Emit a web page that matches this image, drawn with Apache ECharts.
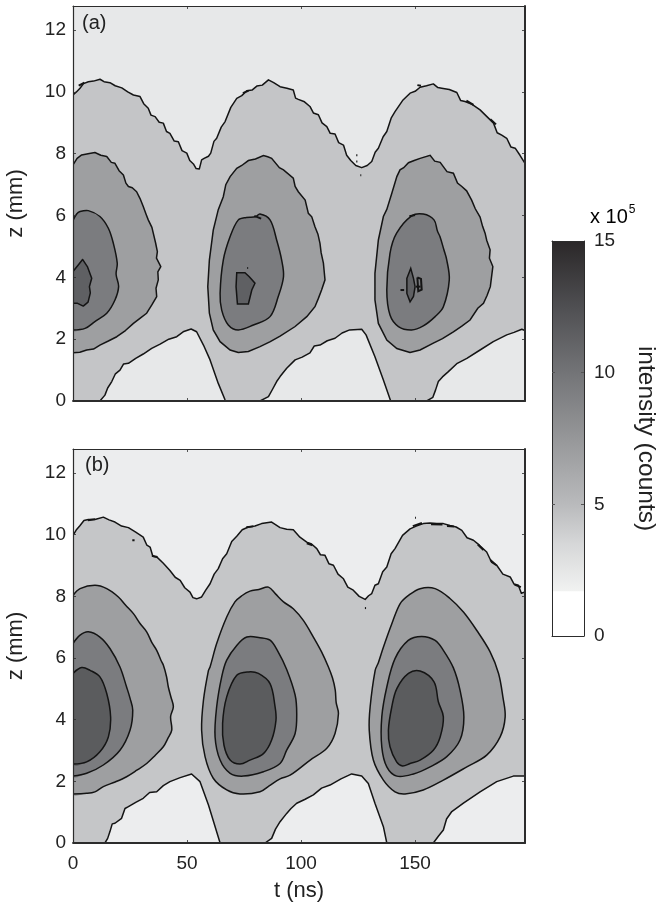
<!DOCTYPE html>
<html><head><meta charset="utf-8">
<style>html,body{margin:0;padding:0;background:#fff}#c{width:657px;height:907px}</style>
<script src="https://cdn.jsdelivr.net/npm/echarts@6/dist/echarts.min.js"></script>
</head><body><div id="c"></div>
<script>
const tTicks=[0,50,100,150];
const zTicks=[0,2,4,6,8,10,12];
const cbTicks=[0,5,10,15];
const tMax=198.2, zMax=12.78;

// Panel (a): contours as [t (ns), z (mm)]
const aTop=[[0,9.9],[1.5,10],[3.07,10.12],[4.6,10.27],[6.73,10.33],[9,10.35],[11.84,10.41],[13.6,10.33],[16.2,10.3],[18.5,10.2],[21.4,10.13],[24,10],[26.5,9.9],[29.4,9.85],[31,9.62],[33,9.47],[34.2,9.25],[36,9.2],[37.8,9.02],[39.6,8.99],[41,8.72],[42.5,8.66],[44.4,8.41],[46.2,8.39],[47.8,8.1],[49.9,8.02],[51.2,7.78],[52.8,7.67],[54,7.52],[55.4,7.51],[56.4,7.8],[57.5,7.85],[59.4,7.92],[60.4,8.02],[61.8,8.4],[63,8.5],[65,8.86],[66.7,9.04],[69.2,9.5],[71.8,9.79],[74,9.88],[76.2,10.04],[78.5,10.06],[80.6,10.19],[83,10.22],[85.7,10.39],[88,10.3],[90.8,10.17],[93.8,10.12],[96.6,10.06],[97.6,9.8],[98.8,9.76],[101.5,9.68],[103.9,9.53],[105.4,9.32],[107.6,9.26],[109.2,9],[111.3,8.88],[112.8,8.66],[114.9,8.64],[116.5,8.36],[118.6,8.28],[120,7.95],[121.8,7.78],[124,7.62],[126.6,7.55],[129,7.62],[131,7.75],[132.5,8.05],[133.9,8.18],[136,8.55],[137.6,8.72],[139.5,9.15],[141.2,9.36],[144.5,9.72],[147.8,9.96],[150,10.02],[152.2,10.15],[155,10.2],[158,10.26],[160,10.14],[161.7,10.12],[165,10.08],[168.3,9.98],[170,9.72],[171.9,9.69],[175,9.6],[178.5,9.42],[181.5,9.2],[184.4,8.99],[186,8.68],[188,8.6],[190.2,8.5],[192,8.22],[193.9,8.18],[196,7.95],[198.2,7.69]];
const aLow1=[[11.8,0],[14,0.19],[15.2,0.42],[17,0.63],[18.6,0.88],[20.6,1],[22.2,1.2],[24.3,1.22],[27.5,1.38],[30.8,1.52],[34.5,1.7],[38.2,1.84],[42,2],[45.5,2.08],[48.6,2.25],[51.8,2.33],[54.2,2.24],[57.2,1.81],[60.1,1.33],[63.7,0.57],[66.7,0.03]];
const aLow2=[[82,0],[85.7,0.14],[87.5,0.38],[89.3,0.63],[90.8,0.79],[93.7,1.06],[97.4,1.33],[100.5,1.42],[103.9,1.56],[105.8,1.78],[108.3,1.81],[111.5,1.95],[114.9,2.03],[118,2.2],[121.3,2.3],[126.6,2.32],[128.5,2.14],[132.4,1.43],[136.1,0.68],[139.3,0]];
const aLow3=[[155.1,0],[157.8,0.12],[159,0.36],[160.2,0.63],[162,0.78],[164.6,0.95],[168.5,1.22],[172.7,1.38],[178.5,1.65],[184.3,1.92],[190.2,2.14],[193.4,2.22],[196.8,2.32],[198.2,2.28]];
const aL2a=[[0,7.64],[1.8,7.85],[3.8,7.96],[6.6,8],[9.6,8.04],[12.2,7.95],[14.8,7.91],[16.8,7.72],[18.4,7.69],[20.2,7.45],[22.1,7.31],[23.2,7.05],[24.3,6.94],[26,6.9],[27.9,6.77],[29.4,6.55],[30.8,6.29],[32,6.05],[33,5.86],[34.6,5.62],[35.2,5.43],[36.2,5.12],[37,4.83],[36.6,4.62],[38.5,4.35],[37.2,4.18],[37.4,3.92],[36.4,3.65],[36.7,3.38],[34.5,3.1],[32.3,2.84],[29.5,2.68],[26.5,2.51],[23,2.28],[19.2,2.08],[15.5,1.94],[11.8,1.81],[9,1.68],[6,1.65],[3,1.58],[0,1.56]];
const aL2b=[[72.5,1.57],[68.9,1.65],[64.5,1.92],[61.5,2.3],[59.8,2.84],[59.1,3.7],[59.8,4.56],[61.5,5.53],[63.7,6.19],[65.9,6.61],[67,7],[68.9,7.26],[71.8,7.53],[74,7.62],[76.9,7.78],[80,7.83],[83.5,7.94],[85.4,7.9],[87.1,7.85],[90.5,7.55],[92.3,7.48],[96.6,7.21],[97.4,6.94],[98.8,6.77],[101.8,6.5],[103.2,6.07],[104.7,5.96],[106.1,5.64],[107.4,5.4],[108.3,5.1],[108.8,4.8],[109.8,4.46],[110.5,3.92],[109,3.59],[107.6,3.32],[106.1,3.05],[102.5,2.73],[97.4,2.41],[90.8,2.1],[86.5,1.92],[82,1.76],[76.9,1.6]];
const aL2c=[[147.8,1.57],[142,1.7],[137.6,1.97],[133.9,2.51],[132.4,3.27],[132.4,4.13],[133.9,5.21],[136.1,5.97],[137.6,6.2],[139.8,6.72],[142,7.26],[143.4,7.48],[145,7.55],[147.1,7.71],[149.6,7.78],[152.2,7.85],[156.6,7.95],[158.6,7.76],[161,7.72],[164,7.42],[166.8,7.37],[168.6,7.05],[170.5,6.94],[172.6,6.8],[174.8,6.5],[176.4,6.22],[178.5,5.95],[179.6,5.65],[180.7,5.43],[181.4,5.2],[182.9,4.89],[182.6,4.62],[184.1,4.35],[183,3.7],[181.6,3.42],[180,3.16],[177.5,3],[174.1,2.62],[170.5,2.42],[166.8,2.24],[162,2.02],[158,1.87],[152.2,1.65]];
const aL3a=[[0,5.84],[1.6,6.05],[3.1,6.13],[6.7,6.16],[11.8,5.97],[15.5,5.59],[17.7,5.1],[19.4,4.46],[18.9,4.1],[20,3.7],[18.4,3.27],[14.8,2.84],[9.6,2.57],[5.3,2.35],[0,2.3]];
const aL3b=[[72.5,2.3],[68.1,2.46],[65.2,2.94],[64.5,3.48],[65.9,4.56],[68.9,5.32],[72.5,5.86],[76,5.94],[80,5.96],[82,6.05],[86.4,5.86],[89.3,5.21],[91.5,4.56],[92.3,4.02],[90,3.38],[86.4,2.73],[79.1,2.46]];
const aL3c=[[148.5,2.3],[142.7,2.41],[139,2.78],[137.6,3.59],[139,4.78],[141.9,5.43],[148.5,5.99],[153.6,6.05],[158.3,5.86],[159.8,5.5],[160.9,5.32],[162.6,4.9],[163.9,4.56],[165,3.92],[162.4,3.05],[158.8,2.73],[153.6,2.43]];
const aL4a=[[0,4.19],[2.3,4.4],[4.2,4.58],[6.3,4.35],[8.2,3.97],[7.2,3.7],[7.6,3.5],[6.6,3.2],[4.5,3.07],[2,3.16],[0,3.16]];
const aL4b=[[71.8,4.15],[75.4,4.15],[77.3,4.02],[79.8,3.81],[78.4,3.59],[76.9,3.14],[72.1,3.14],[71.5,3.7]];
const aL4c=[[148.1,4.29],[149.3,3.97],[150,3.7],[149.3,3.38],[147.8,3.21],[146.4,3.48],[146.4,3.97]];
const aSpecks=[[[143.6,3.59],[145.2,3.59]],[[151,4],[152.6,3.95],[152.9,3.6],[151.4,3.55],[151,4]],[[150.4,3.7],[152.4,3.7]],[[76.4,4.3],[76.8,4.3]],[[124.2,7.95],[124.7,7.95]],[[124.2,7.75],[124.7,7.75]],[[126,7.3],[126.4,7.3]],[[151,10.22],[152.6,10.2]],[[172.5,9.72],[175.6,9.58]],[[183,9.12],[185.5,8.95]],[[74.5,9.96],[77,10.04]],[[2.5,10.2],[5,10.3]],[[79.5,5.99],[82.5,5.9]],[[147.5,5.98],[150,6.02]]];

// Panel (b)
const bTop=[[0,9.98],[1.4,10.15],[3.1,10.3],[4.8,10.46],[6.7,10.49],[10,10.5],[13.3,10.57],[15.8,10.48],[18.4,10.41],[21.3,10.28],[24.3,10.23],[27.5,10.08],[30.8,9.92],[32.4,9.66],[33.8,9.6],[35,9.3],[36.7,9.28],[39.5,9.08],[42.5,8.84],[44.8,8.62],[47,8.52],[49,8.28],[51.3,8.14],[52.6,7.96],[54.2,7.92],[56.4,7.98],[58.2,8.2],[60.1,8.41],[61.9,8.72],[63.7,8.9],[65.6,9.22],[67.4,9.38],[69.6,9.78],[71.8,9.95],[74.2,10.16],[76.9,10.25],[79.8,10.28],[82.7,10.36],[87.1,10.41],[90.8,10.23],[93.7,10.18],[96.6,10.16],[99.5,9.92],[102.5,9.76],[104.6,9.7],[106.9,9.55],[108.5,9.35],[110.5,9.33],[112.2,9.06],[114.2,9.01],[116.2,8.72],[118.6,8.57],[120.5,8.3],[122.9,8.2],[125.5,8],[128.1,7.9],[129.6,8.02],[131,8.09],[132.4,8.36],[133.9,8.41],[135.8,8.8],[137.6,8.95],[139.5,9.38],[141.2,9.55],[144.5,9.98],[147.8,10.19],[150.5,10.28],[153.6,10.36],[156.5,10.38],[159.5,10.36],[162.4,10.36],[165.3,10.3],[168,10.25],[170.5,10.14],[172.8,9.9],[175.6,9.82],[178.2,9.66],[181.4,9.44],[183.6,9.1],[185.8,9.01],[188.5,8.72],[191.7,8.63],[193.4,8.4],[195.3,8.36],[196.6,8.1],[198.2,8.14]];
const bLow1=[[14,0],[15.2,0.15],[16.2,0.37],[17.2,0.62],[18.4,0.64],[21.3,0.8],[22.8,1.12],[24.3,1.18],[27.5,1.32],[30.8,1.45],[33.6,1.64],[36.7,1.66],[39.6,1.86],[42.5,1.99],[47,2.12],[52,2.24],[55.7,1.99],[59.4,1.23],[64.5,0]];
const bLow2=[[84.2,0],[87.1,0.15],[88.8,0.45],[90.8,0.69],[93.7,0.96],[95.6,1.12],[98.1,1.29],[101.8,1.42],[105.4,1.56],[109,1.78],[112.7,1.88],[117.5,2.08],[122.2,2.24],[126.6,2.17],[129.5,1.93],[132.4,1.29],[136.1,0.53],[137.6,0]];
const bLow3=[[158,0],[160.2,0.22],[162.4,0.42],[163.8,0.78],[166.1,1.02],[171.2,1.29],[178.5,1.66],[185.8,1.99],[193.1,2.17],[198.2,2.17]];
const bL2a=[[0,8.03],[3.1,8.25],[9.6,8.36],[14.8,8.25],[19.9,7.98],[23,7.72],[26.5,7.44],[29.4,7.12],[32.3,6.85],[34.6,6.5],[36.7,6.25],[38.6,5.92],[39.6,5.77],[41,5.4],[41.8,5.06],[43,4.72],[44,4.42],[42.8,4.1],[43.3,3.66],[41.5,3.38],[39.6,3.12],[36,2.84],[32.3,2.58],[28,2.36],[23.5,2.15],[18.5,1.98],[13.3,1.83],[9.6,1.66],[6,1.61],[0,1.59]];
const bL2b=[[73.2,1.59],[67.4,1.72],[61.5,2.1],[57.9,2.8],[56.4,3.66],[57.2,4.63],[59.4,5.6],[60.1,5.71],[63,6.47],[67.4,7.33],[71,7.82],[74,8.02],[77.6,8.17],[81.5,8.22],[85.7,8.3],[88.8,8.08],[92.3,7.82],[96.6,7.6],[101,7.22],[105.4,6.68],[109,6.2],[112,5.71],[113.8,5.35],[115,4.96],[115.4,4.55],[116.4,4.2],[114.9,3.55],[111.3,3.07],[104,2.69],[95.2,2.2],[90.8,2.08],[86,1.85],[82,1.66]];
const bL2c=[[145.6,1.59],[141.2,1.66],[136.1,2.04],[131.7,2.69],[129.9,3.66],[130.3,4.42],[132.5,5.6],[133.9,5.85],[136.1,6.35],[139.8,7.11],[143.4,7.76],[147.1,8.03],[152.2,8.25],[158.8,8.25],[165.3,7.93],[171.2,7.49],[177,6.9],[182.9,6.2],[186.6,5.5],[188.5,4.74],[189.5,4.09],[187.3,3.44],[181.4,2.85],[172.7,2.47],[162.4,2.04],[153.6,1.72]];
const bL3a=[[0,6.47],[3.1,6.74],[6.7,6.85],[11.8,6.68],[16.2,6.31],[20.6,5.71],[23.5,5.06],[25,4.7],[26.2,4.31],[25,3.66],[20.6,3.01],[13.3,2.53],[6,2.26],[0,2.17]];
const bL3b=[[74.7,2.17],[68.9,2.26],[64.5,2.69],[62.3,3.44],[63,4.42],[65.2,5.39],[67.4,5.93],[71.8,6.41],[76.2,6.68],[82,6.66],[86.4,6.58],[89.6,6.25],[93.7,5.63],[97.4,4.8],[98.1,4.2],[97.4,3.55],[93.7,3.01],[90.8,2.58],[83.5,2.31]];
const bL3c=[[142,2.17],[137.6,2.47],[135.4,3.12],[135.4,4.09],[137.6,5.06],[141.2,5.98],[147,6.57],[152.9,6.7],[158.8,6.57],[162.4,6.25],[166.8,5.68],[169.7,4.96],[171.4,4.09],[169.7,3.34],[163.9,2.8],[156.6,2.47],[149.3,2.24]];
const bL4a=[[0,5.5],[3.8,5.69],[7.5,5.6],[11.8,5.39],[14.8,4.85],[16.5,4.09],[15.5,3.44],[11.8,2.96],[6,2.63],[0,2.56]];
const bL4b=[[73.2,2.56],[68.9,2.69],[66.2,3.17],[65.6,3.88],[67.4,4.74],[71.8,5.44],[76.9,5.55],[81.3,5.5],[86.4,5.17],[88.6,4.42],[89,3.98],[87.1,3.34],[83.5,2.9],[77.6,2.69]];
const bL4c=[[147.8,2.58],[144.5,2.5],[141.9,2.63],[139,3.12],[138.3,3.66],[139.8,4.42],[142,5.01],[147.1,5.5],[152.2,5.58],[158.3,5.23],[160.2,4.58],[162.4,4.09],[161,3.44],[158,3.01],[152.2,2.69]];
const bSpecks=[[[150,10.55],[150.4,10.55]],[[128,7.62],[128.5,7.62]],[[26,9.82],[27,9.82]],[[149,10.28],[153,10.38]],[[157,10.34],[162,10.33]],[[164,10.28],[167,10.27]],[[6.5,10.47],[9.8,10.5]],[[34.6,9.32],[37,9.28]],[[102.5,9.72],[105,9.66]],[[76,10.24],[79,10.27]],[[193.6,8.38],[196.4,8.3]],[[177.5,9.68],[180,9.5]],[[183,9.18],[185.5,9.02]]];

// Colour bar: [lower, upper] intensity (10^5 counts), gradient stops [value, colour]
const cbRamp=[1.7,15];
const cbStops=[[1.7,'#f1f2f1'],[3.5,'#d6d7d8'],[5,'#b9babc'],[7.5,'#969799'],[10,'#737477'],[12.5,'#4f4f52'],[15,'#2a2728']];

const cA=['#e7e8e9','#c4c5c7','#9e9fa1','#7b7c7f','#5f6063'];
const cB=['#ecedee','#c5c6c8','#9e9fa1','#7b7c7f','#5b5c5e'];
const fr='#2c2c2c';
const ink='#141414';

function contour(grid,pts,fill,closed,extra,smooth){
  const sm=smooth?0.35:0;
  return {type:'custom',xAxisIndex:grid*2,yAxisIndex:grid*2,coordinateSystem:'cartesian2d',silent:true,z:3,
    encode:{x:0,y:1},data:pts,clip:true,
    renderItem(p,api){
      if(p.dataIndex!==0) return null;
      const poly=pts.concat(extra||[]).map(q=>api.coord(q));
      const line=pts.map(q=>api.coord(q));
      return {type:'group',children:[
        {type:'polygon',shape:{points:poly,smooth:sm},style:{fill:fill,stroke:closed?ink:null,lineWidth:1.5}},
        ...(closed?[]:[{type:'polyline',shape:{points:line,smooth:sm},style:{fill:null,stroke:ink,lineWidth:1.5,lineJoin:'round'}}])
      ]};
    }};
}
function speck(grid,pts){
  return {type:'custom',xAxisIndex:grid*2,yAxisIndex:grid*2,silent:true,z:4,encode:{x:0,y:1},data:pts,
    renderItem(p,api){
      if(p.dataIndex!==0) return null;
      return {type:'polyline',shape:{points:pts.map(q=>api.coord(q))},style:{fill:null,stroke:ink,lineWidth:2}};
    }};
}
const topEdge=[[tMax,zMax],[0,zMax]];
const series=[
 contour(0,aTop,cA[0],false,topEdge),contour(0,aLow1,cA[0]),contour(0,aLow2,cA[0]),contour(0,aLow3,cA[0],false,[[tMax,0]]),
 contour(0,aL2a,cA[2]),contour(0,aL2b,cA[2],true),contour(0,aL2c,cA[2],true),
 contour(0,aL3a,cA[3],false,null,true),contour(0,aL3b,cA[3],true,null,true),contour(0,aL3c,cA[3],true,null,true),
 contour(0,aL4a,cA[4]),contour(0,aL4b,cA[4],true),contour(0,aL4c,cA[4],true),
 contour(1,bTop,cB[0],false,topEdge),contour(1,bLow1,cB[0]),contour(1,bLow2,cB[0]),contour(1,bLow3,cB[0],false,[[tMax,0]]),
 contour(1,bL2a,cB[2],false,null,true),contour(1,bL2b,cB[2],true,null,true),contour(1,bL2c,cB[2],true,null,true),
 contour(1,bL3a,cB[3],false,null,true),contour(1,bL3b,cB[3],true,null,true),contour(1,bL3c,cB[3],true,null,true),
 contour(1,bL4a,cB[4],false,null,true),contour(1,bL4b,cB[4],true,null,true),contour(1,bL4c,cB[4],true,null,true),
 ...aSpecks.map(s=>speck(0,s)),...bSpecks.map(s=>speck(1,s)),
 {type:'custom',xAxisIndex:4,yAxisIndex:4,silent:true,z:3,encode:{y:1},data:[[0,cbRamp[0]],[1,cbRamp[1]]],
  renderItem(p,api){
   if(p.dataIndex!==0) return null;
   const a=api.coord([0,cbRamp[1]]),b=api.coord([1,cbRamp[0]]);
   const span=cbRamp[1]-cbRamp[0];
   return {type:'rect',shape:{x:a[0],y:a[1],width:b[0]-a[0],height:b[1]-a[1]},style:{fill:new echarts.graphic.LinearGradient(0,1,0,0,cbStops.map(s=>({offset:(s[0]-cbRamp[0])/span,color:s[1]})))}};
  }}
];

const font='"Liberation Sans",Arial,sans-serif';
const tickStyle={length:3,inside:true,lineStyle:{color:fr,width:0.8}};
function xAx(g,show,bottomW){return [
 {gridIndex:g,type:'value',min:0,max:tMax,position:'bottom',z:10,splitLine:{show:false},
  axisLine:{onZero:false,lineStyle:{color:fr,width:bottomW}},
  axisTick:{...tickStyle,customValues:tTicks},
  axisLabel:{show:show,customValues:tTicks,color:'#222',fontFamily:font,fontSize:19,margin:11},
  name:show?'t (ns)':'',nameLocation:'middle',nameGap:37,nameTextStyle:{color:'#222',fontFamily:font,fontSize:22}},
 {gridIndex:g,type:'value',min:0,max:tMax,position:'top',z:10,splitLine:{show:false},
  axisLine:{onZero:false,lineStyle:{color:fr,width:1}},axisTick:{...tickStyle,customValues:tTicks},axisLabel:{show:false}}];}
function yAx(g){return [
 {gridIndex:g,type:'value',min:0,max:zMax,position:'left',z:10,splitLine:{show:false},
  axisLine:{onZero:false,lineStyle:{color:fr,width:1.2}},
  axisTick:{...tickStyle,customValues:zTicks},
  axisLabel:{customValues:zTicks,color:'#222',fontFamily:font,fontSize:19,margin:7},
  name:'z (mm)',nameLocation:'middle',nameGap:46,nameTextStyle:{color:'#222',fontFamily:font,fontSize:22}},
 {gridIndex:g,type:'value',min:0,max:zMax,position:'right',z:10,splitLine:{show:false},
  axisLine:{onZero:false,lineStyle:{color:fr,width:2}},axisTick:{...tickStyle,customValues:zTicks},axisLabel:{show:false}}];}

const option={
 animation:false,backgroundColor:'#fff',
 grid:[
  {left:73,top:6,width:452,height:395,show:true,backgroundColor:cA[1],borderWidth:0,outerBoundsMode:'none'},
  {left:73,top:449,width:452,height:394,show:true,backgroundColor:cB[1],borderWidth:0,outerBoundsMode:'none'},
  {left:552,top:241,width:32,height:395,show:true,backgroundColor:'#fff',borderWidth:0,outerBoundsMode:'none'}
 ],
 xAxis:[...xAx(0,false,1.8),...xAx(1,true,1.8),
  {gridIndex:2,type:'value',min:0,max:1,position:'bottom',z:10,axisLine:{onZero:false,lineStyle:{color:fr,width:1}},axisTick:{show:false},axisLabel:{show:false},splitLine:{show:false}},
  {gridIndex:2,type:'value',min:0,max:1,position:'top',z:10,axisLine:{onZero:false,lineStyle:{color:fr,width:1}},axisTick:{show:false},axisLabel:{show:false},splitLine:{show:false}}],
 yAxis:[...yAx(0),...yAx(1),
  {gridIndex:2,type:'value',min:0,max:15,position:'left',z:10,axisLine:{onZero:false,lineStyle:{color:fr,width:1}},axisTick:{...tickStyle,customValues:[5,10],lineStyle:{color:'#555',width:1}},axisLabel:{show:false},splitLine:{show:false}},
  {gridIndex:2,type:'value',min:0,max:15,position:'right',z:10,axisLine:{onZero:false,lineStyle:{color:fr,width:1}},axisTick:{...tickStyle,customValues:[5,10],lineStyle:{color:'#555',width:1}},
   axisLabel:{customValues:cbTicks,color:'#222',fontFamily:font,fontSize:19,margin:10},splitLine:{show:false},
   name:'intensity (counts)',nameLocation:'middle',nameRotate:-90,nameGap:49,nameTextStyle:{color:'#222',fontFamily:font,fontSize:24.5}}],
 graphic:[
  {type:'text',left:82,top:13,z:20,style:{text:'(a)',font:'20px '+font,fill:'#222'}},
  {type:'text',left:85,top:455,z:20,style:{text:'(b)',font:'20px '+font,fill:'#222'}},
  {type:'text',left:590,top:204,z:20,style:{rich:{n:{fontFamily:font,fontSize:20,color:'#222',verticalAlign:'bottom'},s:{fontFamily:font,fontSize:12,color:'#222',padding:[0,0,11,1]}},text:'{n|x 10}{s|5}'}}
 ],
 series
};
echarts.init(document.getElementById('c'),null,{renderer:'canvas'}).setOption(option);
</script></body></html>
